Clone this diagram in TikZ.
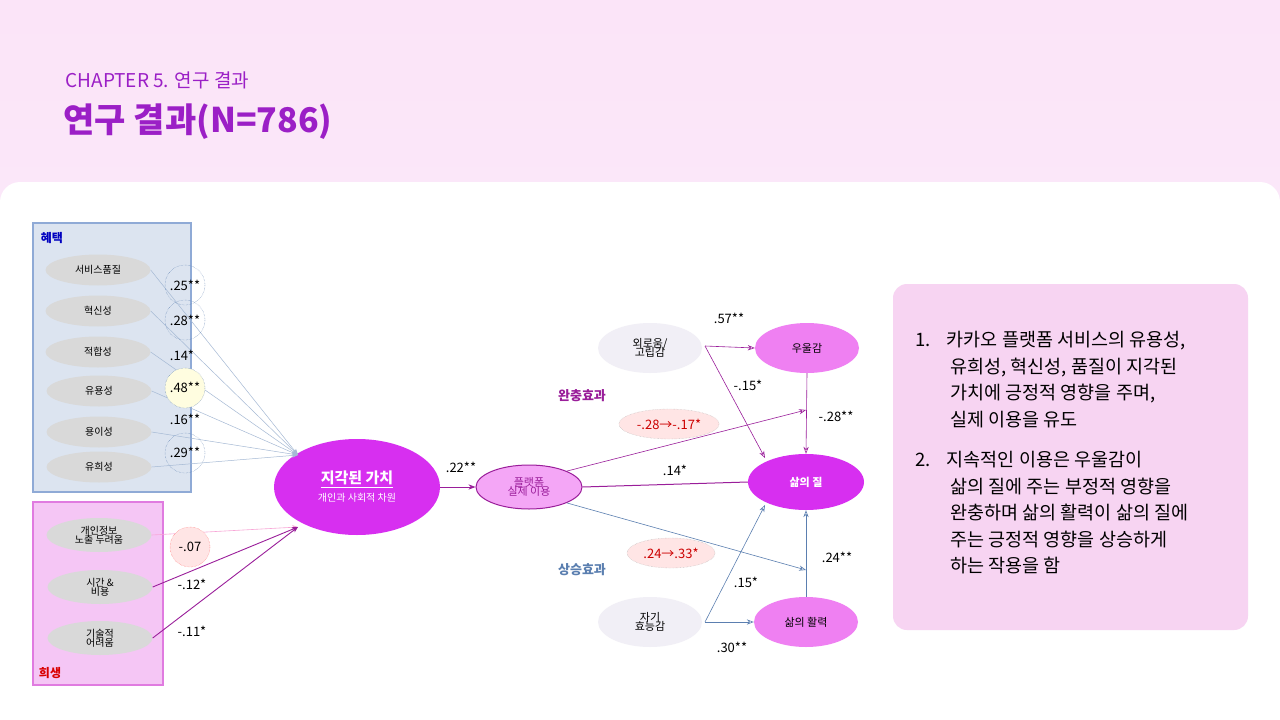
\documentclass[tikz,border=0pt]{standalone}
\usepackage{fontspec}
\setmainfont{Noto Sans CJK KR}
\usetikzlibrary{arrows.meta,shapes.geometric}
\definecolor{ttl}{HTML}{9B1FC6}
\definecolor{mag}{HTML}{D72FF0}
\definecolor{lmag}{HTML}{EF80F2}
\definecolor{bl}{HTML}{5B7FB0}
\definecolor{pur}{HTML}{9A1E9A}
\definecolor{rbox}{HTML}{F7D4F2}
\definecolor{lgr}{HTML}{F1EFF6}
\definecolor{bfill}{HTML}{DCE4F0}
\definecolor{bdraw}{HTML}{8FAAD6}
\definecolor{pfill}{HTML}{F5C6F5}
\definecolor{pdraw}{HTML}{E07BE0}
\definecolor{topbg}{HTML}{FBE4F8}
\tikzset{x=1pt,y=-1pt,
 el/.style={ellipse,draw=none,fill=#1,inner sep=0},
 gr/.style={ellipse,fill=gray!30,minimum width=105pt,minimum height=31pt,inner sep=0,font=\fontsize{10}{11}\selectfont,align=center},
 lab/.style={font=\fontsize{13}{14}\selectfont},
 bla/.style={draw=bl!55,-{Stealth[length=6pt]},line width=0.5pt},
 dc/.style={circle,draw=bl,densely dotted,minimum size=40pt,inner sep=0}}
\begin{document}
\begin{tikzpicture}
\useasboundingbox (0,0) rectangle (1280,720);
\fill[top color=topbg,bottom color=topbg!60] (0,0) rectangle (1280,720);
\fill[white,rounded corners=20pt] (0,182) rectangle (1280,760);
\node[anchor=west,text=ttl,font=\fontsize{19}{20}\selectfont] (ch) at (62,80) {CHAPTER 5. 연구 결과};
\node[anchor=west,text=ttl,font=\fontsize{34}{36}\selectfont\bfseries] (tt) at (60,122) {연구 결과(N=786)};
% right box
\fill[rbox,rounded corners=14pt] (893,284) rectangle (1248,630);
\node[anchor=north west,align=left,font=\fontsize{18.5}{26.5}\selectfont] (txt) at (912,328) {1.\hspace{16pt}카카오 플랫폼 서비스의 유용성,\\\hspace{35pt}유희성, 혁신성, 품질이 지각된\\\hspace{35pt}가치에 긍정적 영향을 주며,\\\hspace{35pt}실제 이용을 유도\\[14pt]2.\hspace{16pt}지속적인 이용은 우울감이\\\hspace{35pt}삶의 질에 주는 부정적 영향을\\\hspace{35pt}완충하며 삶의 활력이 삶의 질에\\\hspace{35pt}주는 긍정적 영향을 상승하게\\\hspace{35pt}하는 작용을 함};
% left boxes
\draw[draw=bdraw,fill=bfill,line width=1.5pt] (33,223) rectangle (191,492);
\draw[draw=pdraw,fill=pfill,line width=1.5pt] (33,502) rectangle (163,685);
\node[text=blue!75!black,font=\fontsize{12}{13}\selectfont\bfseries] (h1) at (52,238) {혜택};
\node[text=red!85!black,font=\fontsize{12}{13}\selectfont\bfseries] (h2) at (50,673) {희생};
\node[gr] (a1) at (98,270) {서비스품질};
\node[gr] (a2) at (98,311) {혁신성};
\node[gr] (a3) at (98,352) {적합성};
\node[gr] (a4) at (99,391) {유용성};
\node[gr] (a5) at (99,432) {용이성};
\node[gr] (a6) at (99,467) {유희성};
\node[gr,minimum height=34pt] (b1) at (99,535) {개인정보\\[-2pt]노출 두려움};
\node[gr,minimum height=34pt] (b2) at (100,587) {시간 \&\\[-2pt]비용};
\node[gr,minimum height=34pt] (b3) at (100,638) {기술적\\[-2pt]어려움};
% central
\node[el=mag,minimum width=166pt,minimum height=96pt,align=center,text=white] (pv) at (357,487) {{\fontsize{15}{16}\selectfont\bfseries\underline{지각된 가치}}\\[6pt]{\fontsize{10}{11}\selectfont 개인과 사회적 차원}};
\coordinate (pin) at (298,455);
\coordinate (pin2) at (298,527);
\foreach \n in {a1,a2,a3,a4,a5,a6} \draw[bla] (\n.east) -- (pin);
\draw[draw=magenta!35,line width=0.6pt,-{Stealth[length=6pt]}] (b1.east) -- (pin2);
\draw[pur,line width=0.9pt,-{Stealth[length=6pt]}] (b2.east) -- (pin2);
\draw[pur,line width=0.9pt,-{Stealth[length=6pt]}] (b3.east) -- (pin2);
\node[dc] (c1) at (185,285) {};
\node[dc] (c2) at (185,320) {};
\node[dc,fill=yellow!12] (c4) at (185,388) {};
\node[dc] (c6) at (185,453) {};
\node[circle,draw=red!60,densely dotted,fill=red!10,minimum size=40pt] (c7) at (190,547) {};
\node[lab] (l1) at (185,285) {.25**};
\node[lab] (l2) at (185,320) {.28**};
\node[lab] (l3) at (182,355) {.14*};
\node[lab] (l4) at (185,387) {.48**};
\node[lab] (l5) at (185,419) {.16**};
\node[lab] (l6) at (185,452) {.29**};
\node[lab] (l7) at (190,547) {-.07};
\node[lab] (l8) at (192,584) {-.12*};
\node[lab] (l9) at (192,631) {-.11*};
% right diagram
\node[ellipse,draw=pur,line width=1pt,fill=lmag!70,minimum width=106pt,minimum height=44pt,align=center,text=pur,font=\fontsize{11}{12}\selectfont] (pl) at (529,487) {플랫폼\\[-3pt]실제 이용};
\draw[pur,line width=0.9pt,-{Stealth[length=7pt]}] (pv.east) -- (pl.west);
\node[lab] (l22) at (461,467) {.22**};
\node[el=lgr,minimum width=104pt,minimum height=50pt,align=center,font=\fontsize{11}{12}\selectfont] (lo) at (650,348) {외로움/\\[-3pt]고립감};
\node[el=lmag,minimum width=104pt,minimum height=50pt,font=\fontsize{11}{12}\selectfont] (dep) at (807,348) {우울감};
\node[el=mag,minimum width=116pt,minimum height=56pt,text=white,font=\fontsize{11}{12}\selectfont\bfseries] (ql) at (806,482) {삶의 질};
\node[el=lmag,minimum width=104pt,minimum height=50pt,font=\fontsize{11}{12}\selectfont] (vit) at (806,622) {삶의 활력};
\node[el=lgr,minimum width=104pt,minimum height=50pt,align=center,font=\fontsize{11}{12}\selectfont] (se) at (650,622) {자기\\[-3pt]효능감};
\node[text=pur,font=\fontsize{13}{14}\selectfont\bfseries] (wc) at (582,396) {완충효과};
\node[text=bl,font=\fontsize{13}{14}\selectfont\bfseries] (ss) at (582,570) {상승효과};
\node[ellipse,draw=gray!60,densely dotted,fill=red!10,minimum width=88pt,minimum height=30pt,text=red!80!black,font=\fontsize{13}{14}\selectfont] (m1) at (669,424) {-.28→-.17*};
\node[ellipse,draw=gray!60,densely dotted,fill=red!10,minimum width=88pt,minimum height=30pt,text=red!80!black,font=\fontsize{13}{14}\selectfont] (m2) at (671,553) {.24→.33*};
\coordinate (lo1) at (705,346);
\coordinate (se1) at (705,622);
\coordinate (mod1) at (806,410);
\coordinate (mod2) at (806,570);
\coordinate (q1) at (765,458);
\coordinate (q2) at (765,505);
\draw[pur,line width=0.6pt,-{Stealth[length=7pt,open]}] (lo1) -- (dep.west);
\draw[pur,line width=0.6pt,-{Stealth[length=7pt,open]}] (lo1) -- (q1);
\draw[pur,line width=0.6pt,-{Stealth[length=7pt,open]}] (dep.south) -- (ql.north);
\draw[pur,line width=0.6pt,-{Stealth[length=7pt,open]}] (pl.north east) -- (mod1);
\draw[pur,line width=1pt] (pl.east) -- (ql.west);
\draw[bl,line width=0.6pt,-{Stealth[length=7pt,open]}] (pl.south east) -- (mod2);
\draw[bl,line width=0.6pt,-{Stealth[length=7pt,open]}] (se1) -- (vit.west);
\draw[bl,line width=0.6pt,-{Stealth[length=7pt,open]}] (se1) -- (q2);
\draw[bl,line width=0.6pt,-{Stealth[length=7pt,open]}] (vit.north) -- (ql.south);
\node[lab] (n1) at (729,318) {.57**};
\node[lab] (n2) at (748,385) {-.15*};
\node[lab] (n3) at (836,416) {-.28**};
\node[lab] (n4) at (675,470) {.14*};
\node[lab] (n5) at (837,557) {.24**};
\node[lab] (n6) at (746,582) {.15*};
\node[lab] (n7) at (732,647) {.30**};
\end{tikzpicture}
\end{document}
